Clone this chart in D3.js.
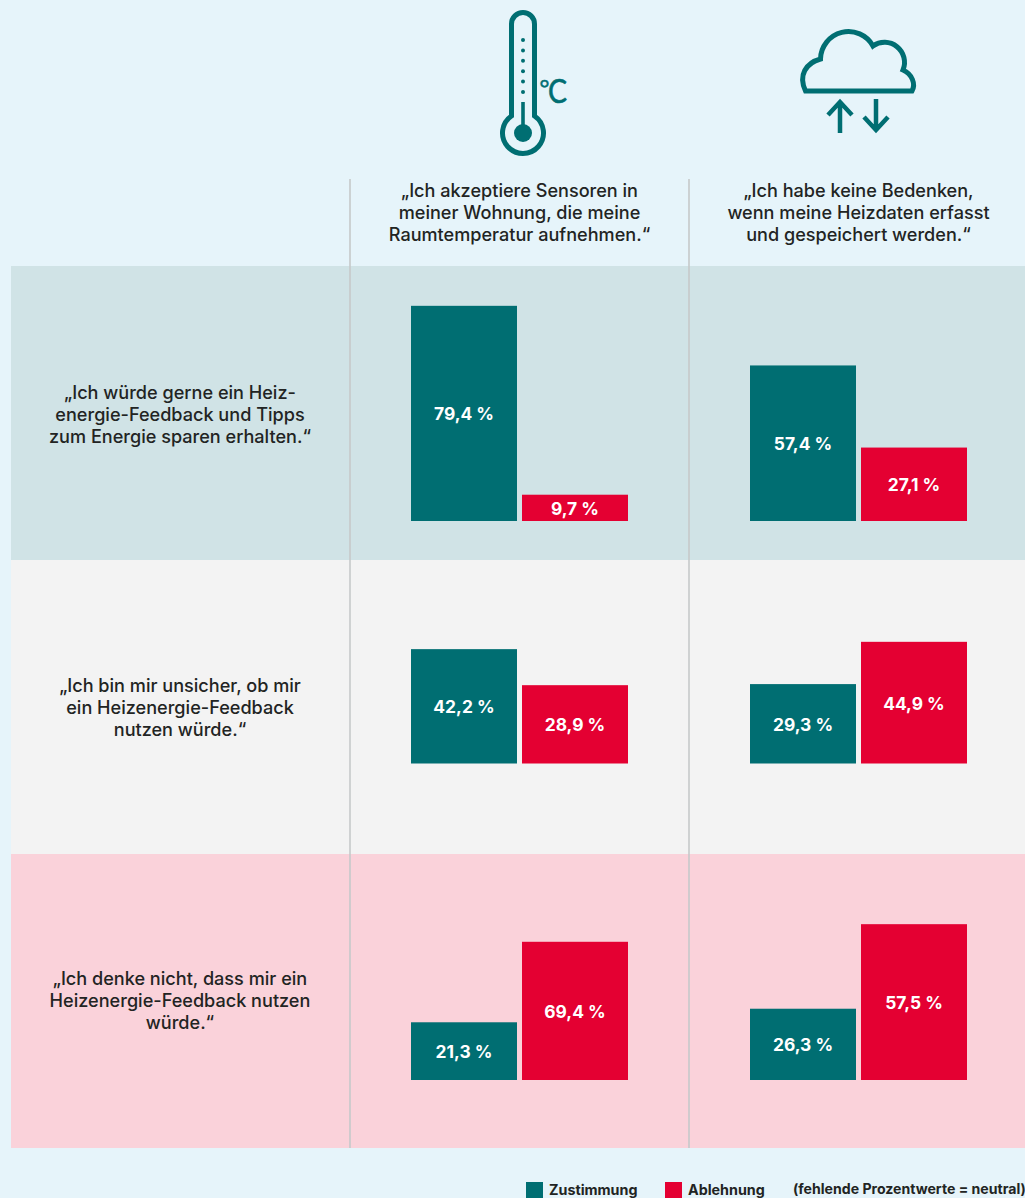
<!DOCTYPE html>
<html>
<head>
<meta charset="utf-8">
<script src="https://cdn.jsdelivr.net/npm/d3@7"></script>
<style>
  html, body { margin: 0; padding: 0; background: #e6f4fa; overflow: hidden; }
  text { font-family: Inter, sans-serif; }
</style>
</head>
<body>
<div id="app"></div>
<script>
const columns = ["sensoren", "heizdaten"];
const rows = ["gerne", "unsicher", "nicht"];

const columnTitles = [
  ["„Ich akzeptiere Sensoren in", "meiner Wohnung, die meine", "Raumtemperatur aufnehmen.“"],
  ["„Ich habe keine Bedenken,", "wenn meine Heizdaten erfasst", "und gespeichert werden.“"]
];
const rowTitles = [
  ["„Ich würde gerne ein Heiz-", "energie-Feedback und Tipps", "zum Energie sparen erhalten.“"],
  ["„Ich bin mir unsicher, ob mir", "ein Heizenergie-Feedback", "nutzen würde.“"],
  ["„Ich denke nicht, dass mir ein", "Heizenergie-Feedback nutzen", "würde.“"]
];

// order: row by row, left column then right column
const zustimmung = [79.4, 57.4, 42.2, 29.3, 21.3, 26.3];
const ablehnung = [9.7, 27.1, 28.9, 44.9, 69.4, 57.5];
// the 69,4 % bar is drawn much shorter in the original (about 51 on the scale of the others)
const ablehnungHeights = [9.7, 27.1, 28.9, 44.9, 51, 57.5];

const seriesNames = ["Zustimmung", "Ablehnung"];
const note = "(fehlende Prozentwerte = neutral)";

const teal = "#006e72";
const red = "#e40032";
const rowColor = d3.scaleOrdinal().domain(rows).range(["#d0e3e6", "#f3f3f3", "#fad2da"]);
const seriesColor = d3.scaleOrdinal().domain(seriesNames).range([teal, red]);

const width = 1025;
const height = 1198;

const svg = d3.select("#app")
  .append("svg")
    .attr("width", width)
    .attr("height", height)
    .style("display", "block");

svg.append("rect")
  .attr("width", width)
  .attr("height", height)
  .attr("fill", "#e6f4fa");

// scales
const rowY = d3.scaleBand().domain(rows).range([266, 1148]);
const columnX = d3.scalePoint().domain(columns).range([411, 750]);
const barX = d3.scaleBand().domain(seriesNames).range([0, 217]).paddingInner(5 / 111);
const barH = d3.scaleLinear().domain([0, 100]).range([0, 271]);

// distance of each row's bar baseline from the top of the row
const baseOffset = d3.scaleOrdinal().domain(rows).range([255, 203.5, 226]);

// backgrounds
svg.append("g").selectAll("rect")
  .data(rows)
  .join("rect")
    .attr("x", 11)
    .attr("y", d => rowY(d))
    .attr("width", width - 11)
    .attr("height", rowY.bandwidth())
    .attr("fill", d => rowColor(d));

// column rules
svg.append("g").selectAll("line")
  .data(columns)
  .join("line")
    .attr("x1", d => columnX(d) - 61)
    .attr("x2", d => columnX(d) - 61)
    .attr("y1", 179)
    .attr("y2", 1148)
    .attr("stroke", "#c6c9ca")
    .attr("stroke-width", 1.6);

// multi line text helper
function lines(sel, lineHeight) {
  sel.selectAll("tspan")
    .data(d => d.text)
    .join("tspan")
      .attr("x", function() { return this.parentNode.__data__.x; })
      .attr("y", (d, i, nodes) => nodes[i].parentNode.__data__.y + i * lineHeight)
      .text(d => d);
}

const titleFont = { size: 18.1, weight: 500, fill: "#222423" };

svg.append("g").selectAll("text")
  .data(columns.map((c, i) => ({ x: columnX(c) + 108.5, y: 196.5, text: columnTitles[i] })))
  .join("text")
    .attr("text-anchor", "middle")
    .attr("font-size", titleFont.size)
    .attr("font-weight", titleFont.weight)
    .attr("fill", titleFont.fill)
    .call(lines, 22);

svg.append("g").selectAll("text")
  .data(rows.map((r, i) => ({ x: 180, y: rowY(r) + [133, 132, 131][i], text: rowTitles[i] })))
  .join("text")
    .attr("text-anchor", "middle")
    .attr("font-size", titleFont.size)
    .attr("font-weight", titleFont.weight)
    .attr("fill", titleFont.fill)
    .call(lines, 22);

// one entry per bar
const cells = d3.cross(rows, columns).map(([row, col], i) => ({ row, col, i }));
const bars = cells.flatMap(c => [
  { ...c, series: seriesNames[0], value: zustimmung[c.i], drawn: zustimmung[c.i] },
  { ...c, series: seriesNames[1], value: ablehnung[c.i], drawn: ablehnungHeights[c.i] }
]);
const baseline = d => rowY(d.row) + baseOffset(d.row);
const percent = d3.format(".1f");

svg.append("g").selectAll("rect")
  .data(bars)
  .join("rect")
    .attr("x", d => columnX(d.col) + barX(d.series))
    .attr("y", d => baseline(d) - barH(d.drawn))
    .attr("width", barX.bandwidth())
    .attr("height", d => barH(d.drawn))
    .attr("fill", d => seriesColor(d.series));

svg.append("g").selectAll("text")
  .data(bars)
  .join("text")
    .attr("x", d => columnX(d.col) + barX(d.series) + barX.bandwidth() / 2)
    .attr("y", d => baseline(d) - barH(d.drawn) / 2 + 7)
    .attr("text-anchor", "middle")
    .attr("font-size", 17.4)
    .attr("font-weight", 700)
    .attr("fill", "#fff")
    .text(d => percent(d.value).replace(".", ",") + " %");

// thermometer icon
const icons = svg.append("g")
  .attr("fill", "none")
  .attr("stroke", teal)
  .attr("stroke-width", 5);

icons.append("path")
  .attr("d", "M511.5,116 V24 A11.5,11.5 0 0 1 534.5,24 V116 A20.5,20.5 0 1 1 511.5,116 Z");
icons.append("path")
  .attr("d", "M523,102 V126")
  .attr("stroke-width", 3.6);
icons.append("circle")
  .attr("cx", 523).attr("cy", 133).attr("r", 9)
  .attr("fill", teal).attr("stroke", "none");
icons.append("g").selectAll("circle")
  .data([40, 50.4, 60.8, 71.2, 81.6, 92])
  .join("circle")
    .attr("cx", 523).attr("cy", d => d).attr("r", 2)
    .attr("fill", teal).attr("stroke", "none");
svg.append("text")
  .attr("x", 539.5)
  .attr("y", 97)
  .attr("font-size", 24)
  .style("font-family", "Lato")
  .attr("fill", teal)
  .attr("stroke", teal)
  .attr("stroke-width", 0.5)
  .text("°");
svg.append("text")
  .attr("x", 548)
  .attr("y", 103)
  .attr("font-size", 32)
  .style("font-family", "Lato")
  .attr("fill", teal)
  .attr("stroke", teal)
  .attr("stroke-width", 0.6)
  .attr("textLength", 19)
  .attr("lengthAdjust", "spacingAndGlyphs")
  .text("C");

// cloud icon
icons.append("path")
  .attr("d", "M805.5,91 C798,75 806,63 820.5,59 A28,28 0 0 1 873,46 A20,20 0 0 1 903,70 C912,74 916,84 912,91 Z")
  .attr("stroke-linejoin", "miter");
icons.append("path")
  .attr("d", "M840,133 V102 M828,115 L840,102 L852,115")
  .attr("stroke-width", 4.5);
icons.append("path")
  .attr("d", "M876,99 V130 M864,117 L876,130 L888,117")
  .attr("stroke-width", 4.5);

// legend
const legendX = d3.scaleOrdinal().domain(seriesNames).range([526, 665]);
const legend = svg.append("g").selectAll("g")
  .data(seriesNames)
  .join("g");
legend.append("rect")
  .attr("x", d => legendX(d))
  .attr("y", 1182)
  .attr("width", 17)
  .attr("height", 16)
  .attr("fill", d => seriesColor(d));
legend.append("text")
  .attr("x", d => legendX(d) + 23)
  .attr("y", 1195)
  .attr("font-size", 14.3)
  .attr("font-weight", 700)
  .attr("fill", "#222423")
  .text(d => d);
svg.append("text")
  .attr("x", 793)
  .attr("y", 1194)
  .attr("font-size", 14.1)
  .attr("font-weight", 700)
  .attr("fill", "#222423")
  .text(note);
</script>
</body>
</html>
